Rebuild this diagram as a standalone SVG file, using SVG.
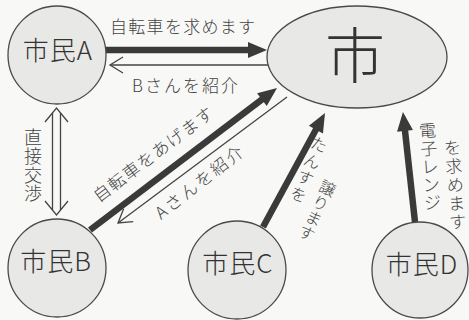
<svg xmlns="http://www.w3.org/2000/svg" width="469" height="320" viewBox="0 0 469 320">
  <style>
    .node { fill: #e8e8e6; stroke: #4a4a4a; stroke-width: 1.3; }
    .nlabel { font-family: "Noto Sans CJK JP", "Noto Sans", sans-serif; font-weight: 300; font-size: 26px; fill: #333; text-anchor: middle; letter-spacing: 1px; }
    .lbl { font-family: "Noto Sans CJK JP", "Noto Sans", sans-serif; font-weight: 300; font-size: 17px; fill: #444; }
    .vlbl { font-family: "Noto Sans CJK JP", "Noto Sans", sans-serif; font-weight: 300; font-size: 17px; fill: #444; text-anchor: middle; }
    .thick { stroke: #3a3a3a; stroke-width: 6.5; fill: none; marker-end: url(#solid); }
    .thin { stroke: #444; stroke-width: 1.3; fill: none; marker-end: url(#open); }
    .dbl { stroke: #444; stroke-width: 1.3; fill: none; }
  </style>
  <defs>
    <marker id="solid" markerUnits="userSpaceOnUse" viewBox="0 0 19 16" refX="1" refY="8" markerWidth="19" markerHeight="16" orient="auto" overflow="visible">
      <path d="M0,0 L19,8 L0,16 z" fill="#3a3a3a"/>
    </marker>
    <marker id="open" markerUnits="userSpaceOnUse" viewBox="-14 -9 15 18" refX="0" refY="0" markerWidth="15" markerHeight="18" orient="auto" overflow="visible">
      <path d="M-13,-8 L0,0 L-13,8" fill="none" stroke="#444" stroke-width="1.3"/>
    </marker>
  </defs>
  <rect width="469" height="320" fill="#f8f8f6"/>

  <g id="connectors">
    <line class="thick" x1="106" y1="50" x2="249" y2="50"/>
    <line class="thin" x1="278" y1="65" x2="110" y2="65"/>
    <line class="thick" x1="90" y1="230" x2="262.7" y2="98.9"/>
    <line class="thin" x1="287" y1="97" x2="118" y2="223"/>
    <line class="thick" x1="263" y1="227" x2="316.4" y2="128.8"/>
    <line class="thick" x1="415" y1="222" x2="404.9" y2="129.9"/>
    <g id="direct">
      <path class="dbl" d="M45,122 L56.5,108 L68,122 M52.5,113 L52.5,210 M60.5,113 L60.5,210 M45,201 L56.5,215 L68,201"/>
    </g>
    <text class="lbl" x="110" y="33" letter-spacing="1.3">自転車を求めます</text>
    <text class="lbl" x="132" y="92" letter-spacing="2">Bさんを紹介</text>
    <text class="lbl" transform="translate(99,203) rotate(-37)" letter-spacing="1.3">自転車をあげます</text>
    <text class="lbl" transform="translate(161,220) rotate(-38)" letter-spacing="2.3">Aさんを紹介</text>
    <text class="vlbl" x="33 33 33 33" y="144 162.8 181.5 200.3" style="font-size:18px">直接交渉</text>
    <text class="vlbl" transform="translate(322,137) rotate(22)" x="0 0 0 0" y="14 32 50 68" style="font-size:16px">たんすを</text>
    <text class="vlbl" transform="translate(331,181) rotate(25)" x="0 0 0 0" y="14 30.5 47 63.5" style="font-size:16px">譲ります</text>
    <text class="vlbl" transform="translate(427,122) rotate(-4)" x="0 0 0 0 0" y="15 33 51 69 87">電子レンジ</text>
    <text class="vlbl" transform="translate(452,139) rotate(-4)" x="0 0 0 0 0" y="15 33.6 52.2 70.8 89.4">を求めます</text>
  </g>

  <g id="city">
    <ellipse class="node" cx="357" cy="57" rx="90" ry="51"/>
    <text class="nlabel" x="355" y="78" style="font-size:60px;letter-spacing:0">市</text>
  </g>
  <g id="citizenA">
    <circle class="node" cx="57" cy="55" r="49"/>
    <text class="nlabel" x="58" y="60">市民A</text>
  </g>
  <g id="citizenB">
    <circle class="node" cx="57" cy="268" r="49"/>
    <text class="nlabel" x="56" y="271">市民B</text>
  </g>
  <g id="citizenC">
    <circle class="node" cx="237" cy="270" r="49"/>
    <text class="nlabel" x="238" y="273">市民C</text>
  </g>
  <g id="citizenD">
    <circle class="node" cx="420" cy="270" r="48"/>
    <text class="nlabel" x="422" y="274">市民D</text>
  </g>
</svg>
